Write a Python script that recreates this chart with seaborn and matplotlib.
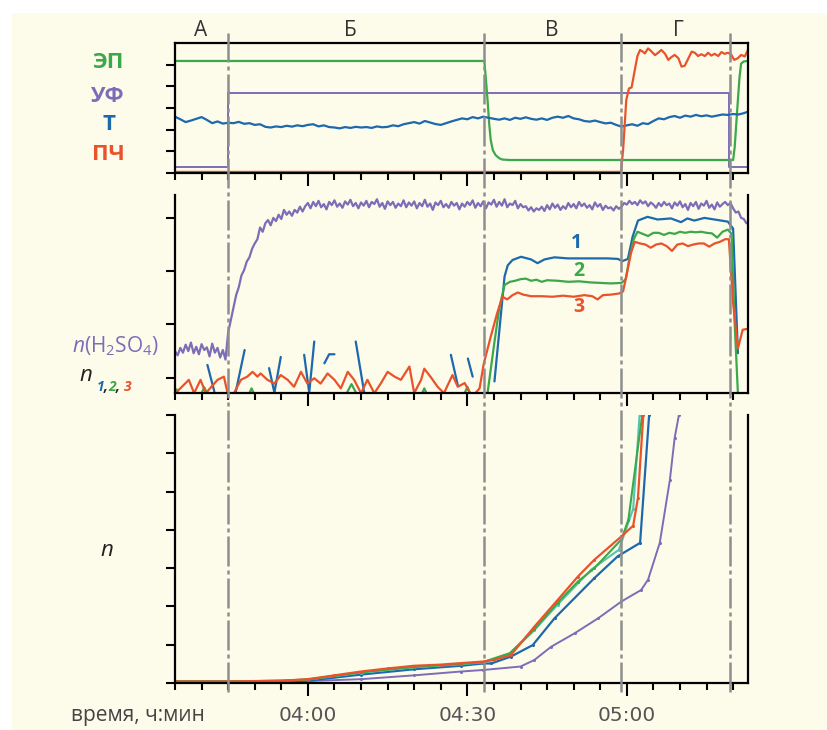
import numpy as np
import pandas as pd
import matplotlib
matplotlib.use("Agg")
import matplotlib.pyplot as plt
import seaborn as sns
from matplotlib.ticker import FixedLocator, FixedFormatter, NullFormatter
from matplotlib.transforms import blended_transform_factory
from matplotlib.patches import Rectangle

# ---------------- data (time in minutes relative to 04:00) ----------------
phase_bounds = [-15.0, 33.1, 58.9, 79.4]
phase_names = ["А", "Б", "В", "Г"]
phase_label_x = [-20.2, 7.9, 45.8, 69.7]
major_ticks = [0, 30, 60]
major_labels = ["04:00", "04:30", "05:00"]

# top panel
ep_t = [-25, 33.2, 33.5, 33.8, 34.1, 34.4, 34.8, 35.3, 36.0, 36.6, 38.0, 80.0, 80.3, 80.6, 80.9, 81.2, 81.5, 82.0, 82.8]
ep_v = [5.17, 5.17, 4.3, 3.37, 2.3, 1.52, 1.05, 0.83, 0.68, 0.62, 0.60, 0.60, 1.2, 2.3, 3.37, 4.4, 5.05, 5.15, 5.17]
uf_t = [-25, -15, -15, 79.3, 79.3, 82.8]
uf_v = [0.30, 0.30, 3.68, 3.68, 0.30, 0.30]
temp_t = list(range(-25, 83)) + [82.8]
temp_v = [2.60, 2.48, 2.35, 2.42, 2.50, 2.58, 2.45, 2.30, 2.38, 2.28,
          2.32, 2.30, 2.36, 2.27, 2.30, 2.22, 2.25, 2.13, 2.10, 2.15,
          2.12, 2.18, 2.14, 2.20, 2.16, 2.22, 2.25, 2.15, 2.20, 2.12,
          2.10, 2.06, 2.12, 2.08, 2.13, 2.10, 2.12, 2.08, 2.15, 2.11,
          2.13, 2.20, 2.16, 2.25, 2.30, 2.35, 2.28, 2.40, 2.33, 2.26,
          2.22, 2.30, 2.38, 2.45, 2.52, 2.48, 2.58, 2.52, 2.60, 2.55,
          2.50, 2.46, 2.52, 2.45, 2.55, 2.50, 2.57, 2.50, 2.46, 2.52,
          2.45, 2.55, 2.60, 2.55, 2.63, 2.52, 2.48, 2.40, 2.37, 2.42,
          2.35, 2.29, 2.32, 2.22, 2.14, 2.20, 2.25, 2.18, 2.30, 2.26,
          2.40, 2.52, 2.48, 2.58, 2.63, 2.55, 2.65, 2.60, 2.68, 2.62,
          2.66, 2.60, 2.65, 2.70, 2.68, 2.72, 2.70, 2.76, 2.83]
pch_t = [-25, 58.9, 59.3, 59.9, 60.4, 60.9, 61.5, 62.0, 62.5, 63.0, 63.4, 64.0, 64.6, 65.3, 65.9, 66.5,
         67.2, 67.8, 68.4, 69.0, 69.7, 70.3, 70.9, 71.5, 72.2, 72.8, 73.4, 74.0, 74.7, 75.3, 75.9, 76.5,
         77.2, 77.8, 78.4, 79.0, 79.6, 80.2, 80.9, 81.5, 82.2, 82.8]
pch_v = [0.05, 0.05, 1.06, 3.37, 3.90, 3.95, 4.75, 5.40, 5.68, 5.60, 5.52, 5.75, 5.62, 5.44, 5.55, 5.68,
         5.50, 5.22, 5.35, 5.45, 5.30, 4.91, 4.95, 5.25, 5.60, 5.55, 5.40, 5.48, 5.40, 5.55, 5.42, 5.50,
         5.40, 5.58, 5.50, 5.55, 5.48, 5.22, 5.30, 5.45, 5.38, 5.68]

# middle panel
h2so4_t = list(np.arange(-25, 83, 0.5))
h2so4_v = [0.50, 0.42, 0.56, 0.47, 0.62, 0.50, 0.66, 0.46, 0.58, 0.44, 0.63, 0.52, 0.57, 0.40, 0.64, 0.47, 0.56, 0.38, 0.52, 0.34,
           0.85, 1.08, 1.32, 1.55, 1.70, 1.92, 2.02, 2.18, 2.26, 2.42, 2.52, 2.60, 2.82, 2.74, 2.90, 2.96, 2.86, 3.00, 2.94, 3.06,
           2.98, 3.15, 3.06, 3.12, 3.04, 3.15, 3.10, 3.21, 3.12, 3.22,
           3.28, 3.18, 3.30, 3.22, 3.32, 3.20, 3.26, 3.16, 3.30, 3.24, 3.33, 3.21, 3.27, 3.19, 3.31, 3.25, 3.34, 3.22, 3.28, 3.18,
           3.29, 3.23, 3.32, 3.20, 3.30, 3.26, 3.35, 3.21, 3.28, 3.17, 3.31, 3.24, 3.30, 3.19, 3.27, 3.22, 3.33, 3.20, 3.29, 3.23,
           3.31, 3.18, 3.28, 3.22, 3.34, 3.21, 3.27, 3.15, 3.29, 3.24, 3.32, 3.20, 3.26, 3.19, 3.30, 3.23, 3.28, 3.16, 3.27, 3.21,
           3.30, 3.24, 3.33, 3.19, 3.28, 3.22, 3.31, 3.18, 3.29, 3.25, 3.34, 3.21, 3.30, 3.23, 3.35, 3.20, 3.27, 3.24, 3.32, 3.18,
           3.26, 3.20, 3.22, 3.14, 3.20, 3.12, 3.18, 3.15, 3.21, 3.13, 3.24, 3.16, 3.27, 3.19, 3.25, 3.15, 3.22, 3.17, 3.28, 3.20,
           3.26, 3.18, 3.30, 3.22, 3.27, 3.19, 3.24, 3.16, 3.29, 3.21, 3.26, 3.15, 3.23, 3.18, 3.20, 3.14, 3.22, 3.17, 3.21, 3.28,
           3.25, 3.32, 3.26, 3.30, 3.24, 3.33, 3.27, 3.31, 3.22, 3.29, 3.25, 3.19, 3.28, 3.22, 3.30, 3.24, 3.27, 3.18, 3.29, 3.23,
           3.31, 3.20, 3.26, 3.15, 3.28, 3.22, 3.30, 3.17, 3.27, 3.23, 3.32, 3.19, 3.25, 3.16, 3.29, 3.21, 3.26, 3.30, 3.24, 3.28,
           3.18, 3.10, 3.12, 3.00, 2.98, 2.90]

n1_seg = [1, 1, 2, 2, 3, 3, 3, 4, 4, 4, 5, 5, 5, 6, 6, 7, 7, 8, 8] + [9] * 29
n1_t = [-18.9, -17.6, -13.6, -11.9, -7.3, -6.3, -5.1, -0.7, 0.25, 1.2, 3.1, 4.0, 5.0, 9.0, 10.6, 26.9, 28.2, 30.1, 31.0,
        35.1, 37.0, 37.6, 38.5, 40.1, 42.0, 43.2, 44.5, 46.4, 48.9, 51.4, 53.9, 56.4, 58.3, 59.2, 60.2, 61.1, 62.1,
        63.9, 65.8, 68.3, 70.2, 71.4, 72.7, 74.6, 76.5, 79.0, 80.0, 80.9]
n1_v = [0.24, -0.26, -0.28, 0.52, 0.18, -0.28, 0.39, 0.43, -0.28, 0.68, 0.27, 0.44, 0.44, 0.68, -0.28, 0.43, -0.14, 0.36, 0.02,
        -0.07, 1.90, 2.11, 2.21, 2.27, 2.22, 2.15, 2.22, 2.26, 2.24, 2.24, 2.24, 2.24, 2.23, 2.19, 2.23, 2.65, 2.95,
        3.02, 2.97, 2.99, 2.92, 2.99, 2.95, 3.00, 2.97, 2.93, 2.80, 0.46]

n2_t = [-25, -24.7, -24.4, -20, -19.5, -19, -11, -10.6, -10.2, 7.3, 8.2, 9.1, 21.5, 21.9, 22.3, 29.5, 30.0, 30.5, 33.8,
        35.0, 36.0, 37.0, 38.0, 39.0, 40.0, 41.0, 42.0, 43.0, 44.0, 45.0, 47.0, 49.0, 51.0, 53.0, 55.0, 57.0, 59.0,
        59.8, 60.6, 61.3, 62.0, 63.0, 64.0, 65.0, 66.0, 67.0, 68.0, 69.0, 70.0, 71.0, 72.0, 73.0, 74.0, 75.0, 76.0,
        77.0, 78.0, 79.0, 79.7, 80.3, 80.9]
n2_v = [-0.29, -0.22, -0.29, -0.29, -0.18, -0.29, -0.29, -0.20, -0.29, -0.29, -0.12, -0.29, -0.29, -0.20, -0.29,
        -0.29, -0.17, -0.29, -0.29,
        0.60, 1.30, 1.74, 1.80, 1.82, 1.85, 1.86, 1.82, 1.84, 1.80, 1.83, 1.82, 1.80, 1.81, 1.79, 1.78, 1.77, 1.78,
        1.85, 2.30, 2.60, 2.74, 2.70, 2.66, 2.72, 2.72, 2.68, 2.72, 2.70, 2.74, 2.72, 2.74, 2.73, 2.74, 2.72, 2.71,
        2.63, 2.74, 2.78, 2.70, 1.00, -0.29]

n3_t = [-24.9, -22.4, -21.4, -20.2, -19.2, -17.0, -15.8, -15.1, -13.9, -12.6, -11.4, -10.4, -9.5, -8.9, -7.6, -6.3,
        -5.1, -3.8, -2.6, -1.3, -0.1, 1.2, 2.4, 3.7, 5.0, 6.2, 7.5, 8.7, 10.0, 11.2, 12.5, 13.7, 15.0, 16.3, 17.5,
        19.1, 20.0, 21.3, 21.9, 23.2, 24.4, 25.6, 27.2, 28.2, 29.5, 30.5, 31.5, 32.3, 33.1, 34.4, 35.6, 36.6, 37.5,
        38.5, 39.5, 40.5, 42.0, 44.0, 46.0, 48.0, 50.0, 52.0, 53.5, 54.5, 55.5, 57.0, 58.5, 59.3, 60.0, 60.8, 61.5,
        62.5, 63.5, 64.5, 65.5, 66.5, 67.5, 68.5, 69.5, 70.5, 71.5, 72.5, 73.5, 74.5, 75.5, 76.5, 77.5, 78.5, 79.2,
        80.0, 80.9, 81.8, 82.8]
n3_v = [-0.29, -0.04, -0.29, -0.04, -0.29, -0.04, 0.02, -0.29, -0.29, -0.04, 0.02, 0.11, 0.02, 0.08, -0.04, -0.11,
        0.05, -0.04, -0.17, 0.11, -0.11, -0.01, -0.11, 0.08, -0.04, -0.20, 0.11, -0.04, -0.29, -0.04, -0.29, -0.11,
        0.11, 0.02, -0.04, 0.21, -0.29, -0.04, 0.17, 0.00, -0.17, -0.29, 0.05, -0.17, -0.10, -0.29, -0.29, -0.20,
        0.27, 0.77, 1.21, 1.52, 1.47, 1.55, 1.60, 1.56, 1.53, 1.53, 1.52, 1.54, 1.52, 1.55, 1.53, 1.47, 1.55, 1.56,
        1.58, 1.62, 1.95, 2.35, 2.55, 2.52, 2.50, 2.44, 2.50, 2.52, 2.47, 2.38, 2.50, 2.52, 2.47, 2.50, 2.52, 2.52,
        2.46, 2.52, 2.55, 2.60, 2.60, 1.40, 0.55, 0.90, 0.92]

# bottom panel
b_purple_t = [-25, -15, -5, 0, 10, 20, 28.8, 33, 40, 42.6, 45.8, 50.2, 54.6, 59, 62.7, 64, 66.2, 68.1, 69, 69.8]
b_purple_v = [0.04, 0.04, 0.04, 0.05, 0.10, 0.20, 0.30, 0.34, 0.43, 0.60, 0.95, 1.30, 1.69, 2.13, 2.43, 2.70, 3.66, 5.30, 6.40, 7.0]
b_blue_t = [-25, -15, -5, 0, 10, 20, 28.8, 33, 34.5, 38.2, 42.3, 46.4, 53.9, 58.3, 62.5, 64.2]
b_blue_v = [0.04, 0.04, 0.04, 0.06, 0.22, 0.36, 0.45, 0.51, 0.51, 0.69, 0.99, 1.69, 2.74, 3.31, 3.66, 7.0]
b_teal_t = [-25, -15, -5, 0, 10, 20, 28.8, 33, 38, 42.6, 47, 53.3, 58.5, 61.2, 62.4]
b_teal_v = [0.04, 0.04, 0.06, 0.09, 0.27, 0.41, 0.49, 0.54, 0.76, 1.38, 2.05, 2.96, 3.48, 4.55, 7.0]
b_green_t = [-25, -15, -5, 0, 10, 20, 28.8, 33, 38, 42.6, 47, 50.8, 53.9, 59, 60.3, 62.9]
b_green_v = [0.04, 0.04, 0.06, 0.09, 0.28, 0.42, 0.50, 0.55, 0.78, 1.40, 2.10, 2.65, 3.00, 3.75, 4.27, 7.0]
b_red_t = [-25, -15, -5, 0, 5, 10, 15, 20, 25, 28.8, 33, 35, 38.2, 42.6, 47, 50.8, 53.9, 59, 61.2, 62.1, 63.1]
b_red_v = [0.04, 0.04, 0.06, 0.10, 0.20, 0.30, 0.38, 0.45, 0.48, 0.52, 0.56, 0.60, 0.73, 1.47, 2.17, 2.78, 3.22, 3.83, 4.11, 4.84, 7.0]

# ---------------- style ----------------
GREEN = "#3ba84a"
PURPLE = "#7d6db7"
BLUE = "#1c69ad"
RED = "#e9532c"
TEAL = "#57c3b6"
GRAY = "#8e8e8e"
CREAM = "#fdfbea"

sns.set_style("ticks")
plt.rcParams['font.family'] = ['Open Sans', 'DejaVu Sans']
plt.rcParams['mathtext.fontset'] = 'custom'
plt.rcParams['mathtext.rm'] = 'Open Sans'
plt.rcParams['mathtext.it'] = 'Open Sans:italic'
plt.rcParams['mathtext.bf'] = 'Open Sans:bold'

W, H = 828, 730
fig = plt.figure(figsize=(W / 100, H / 100), dpi=100, facecolor="white")
fig.add_artist(Rectangle((12 / W, 0), 1, (H - 13) / H, transform=fig.transFigure,
                         facecolor=CREAM, edgecolor="none", zorder=-10))

def fx(px):
    return px / W

def fy(py):
    return 1 - py / H

L, R = 175, 748
ax1 = fig.add_axes([fx(L), fy(173), fx(R) - fx(L), fy(43) - fy(173)])
ax2 = fig.add_axes([fx(L), fy(393), fx(R) - fx(L), fy(195) - fy(393)])
ax3 = fig.add_axes([fx(L), fy(683), fx(R) - fx(L), fy(415) - fy(683)])

def line(ax, t, v, color, lw=1.6, **kw):
    sns.lineplot(x=t, y=v, ax=ax, color=color, lw=lw, estimator=None, sort=False, **kw)

# top panel
line(ax1, uf_t, uf_v, PURPLE, lw=1.4)
line(ax1, ep_t, ep_v, GREEN, lw=1.6)
line(ax1, temp_t, temp_v, BLUE, lw=1.6)
line(ax1, pch_t, pch_v, RED, lw=1.6)

# middle panel
line(ax2, h2so4_t, h2so4_v, PURPLE, lw=1.6)
df_n1 = pd.DataFrame({"t": n1_t, "v": n1_v, "seg": n1_seg})
sns.lineplot(data=df_n1, x="t", y="v", units="seg", estimator=None, sort=False,
             ax=ax2, color=BLUE, lw=1.6)
line(ax2, n2_t, n2_v, GREEN, lw=1.6)
line(ax2, n3_t, n3_v, RED, lw=1.6)

# bottom panel
mk = dict(marker="o", markersize=2.2, markeredgewidth=0)
line(ax3, b_purple_t, b_purple_v, PURPLE, lw=1.4, **mk)
line(ax3, b_blue_t, b_blue_v, BLUE, lw=1.6, **mk)
line(ax3, b_teal_t, b_teal_v, TEAL, lw=1.5, **mk)
line(ax3, b_green_t, b_green_v, GREEN, lw=1.5, **mk)
line(ax3, b_red_t, b_red_v, RED, lw=1.6, **mk)

minor = [m for m in range(-25, 85, 5) if m not in major_ticks]
limits = [(0, 6, range(0, 6)), (-0.287, 3.43, range(0, 4)), (0, 7, range(0, 8))]
for ax, (lo, hi, yt) in zip([ax1, ax2, ax3], limits):
    ax.set_facecolor("none")
    ax.set_xlim(-25, 82.8)
    ax.set_ylim(lo, hi)
    ax.set_xlabel("")
    ax.set_ylabel("")
    ax.xaxis.set_major_locator(FixedLocator(major_ticks))
    ax.xaxis.set_minor_locator(FixedLocator(minor))
    ax.yaxis.set_major_locator(FixedLocator(list(yt)))
    ax.tick_params(axis="x", which="major", length=9.5, width=1.5, color="black", direction="out")
    ax.tick_params(axis="x", which="minor", length=5, width=1.5, color="black", direction="out")
    ax.tick_params(axis="y", which="major", length=6.5, width=1.5, color="black", direction="out",
                   labelleft=False)
    for s in ["left", "right", "bottom", "top"]:
        ax.spines[s].set_linewidth(1.6)
        ax.spines[s].set_color("black")
    if ax is not ax1:
        ax.spines["top"].set_visible(False)
    if ax is not ax3:
        ax.tick_params(axis="x", labelbottom=False)

ax3.xaxis.set_major_formatter(FixedFormatter(major_labels))
ax3.tick_params(axis="x", which="major", labelsize=14.5, labelcolor="#555555", pad=7)
for lab in ax3.get_xticklabels():
    lab.set_fontfamily(["DejaVu Sans"])

# phase boundaries
tr = blended_transform_factory(ax3.transData, fig.transFigure)
for xb in phase_bounds:
    ax3.plot([xb, xb], [fy(692), fy(33)], transform=tr, clip_on=False, color=GRAY,
             lw=1.8, ls=(0, (12, 1.6, 1.6, 1.6)), zorder=5)

# phase labels
trl = blended_transform_factory(ax1.transData, fig.transFigure)
for xl, nm in zip(phase_label_x, phase_names):
    ax1.text(xl, fy(31), nm, transform=trl, ha="center", va="center", fontsize=15, color="#333333")

# left labels
fig.text(fx(108), fy(62), "ЭП", color=GREEN, fontsize=16, fontweight="bold", ha="center", va="center")
fig.text(fx(108), fy(96), "УФ", color=PURPLE, fontsize=16, fontweight="bold", ha="center", va="center")
fig.text(fx(109), fy(125), "Т", color=BLUE, fontsize=16, fontweight="bold", ha="center", va="center")
fig.text(fx(108), fy(155), "ПЧ", color=RED, fontsize=16, fontweight="bold", ha="center", va="center")
fig.text(fx(115), fy(346), r"$n$(H$_2$SO$_4$)", color=PURPLE, fontsize=15, ha="center", va="center")
fig.text(fx(86), fy(375), "n", color="#222222", fontsize=16, fontstyle="italic", ha="center", va="center")
for px, s, c in [(100.5, "1", BLUE), (105.5, ",", "#222222"), (112.5, "2", GREEN), (118, ",", "#222222"), (128, "3", RED)]:
    fig.text(fx(px), fy(387), s, color=c, fontsize=10, fontstyle="italic", fontweight="bold",
             ha="center", va="center")
fig.text(fx(107), fy(550), "n", color="#222222", fontsize=16, fontstyle="italic", ha="center", va="center")
fig.text(fx(138), fy(715), "время, ч:мин", color="#444444", fontsize=15, ha="center", va="center")

# curve labels
tr2 = blended_transform_factory(ax2.transData, fig.transFigure)
for xl, py, s, c in [(50.5, 243, "1", BLUE), (51.0, 271, "2", GREEN), (51.0, 307, "3", RED)]:
    ax2.text(xl, fy(py), s, transform=tr2, color=c, fontsize=14, fontweight="bold", ha="center", va="center")

fig.savefig("out.png", dpi=100, facecolor=fig.get_facecolor())
